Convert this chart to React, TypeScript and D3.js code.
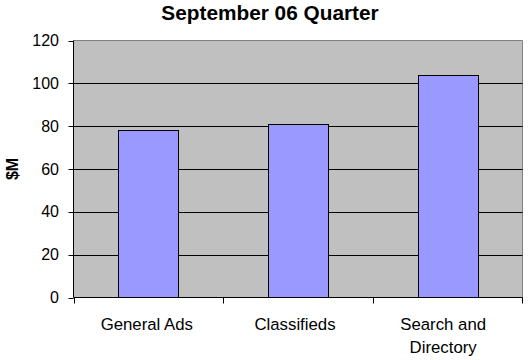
import React from "react";
import * as d3 from "d3";

const categories: string[][] = [["General Ads"], ["Classifieds"], ["Search and", "Directory"]];
const values: number[] = [78, 81, 104];
const yTicks: number[] = [0, 20, 40, 60, 80, 100, 120];
const title = "September 06 Quarter";
const yTitle = "$M";

export default function App() {
  const W = 531, H = 360;
  const left = 73.5, right = 522.5, top = 40.5, bottom = 297.5;
  const x = d3.scaleBand<number>().domain(categories.map((_, i) => i)).range([left, right]).paddingInner(0).paddingOuter(0);
  const y = d3.scaleLinear().domain([0, 120]).range([bottom, top]);
  const bw = x.bandwidth() * 0.4;
  const font = "Arial, 'Liberation Sans', sans-serif";
  return (
    <svg width={W} height={H} style={{ position: "absolute", left: 0, top: 0 }} fontFamily={font}>
      <rect x={0} y={0} width={W} height={H} fill="#fff" />
      <text x={270} y={20} textAnchor="middle" fontWeight="bold" fontSize={20.8}>{title}</text>
      <rect x={left} y={top} width={right - left} height={bottom - top} fill="#C0C0C0" />
      <line x1={left} x2={right} y1={top} y2={top} stroke="#808080" />
      <line x1={right} x2={right} y1={top} y2={bottom} stroke="#808080" />
      {yTicks.filter(t => t > 0 && t < 120).map(t => (
        <line key={t} x1={left} x2={right} y1={Math.round(y(t)) + 0.5} y2={Math.round(y(t)) + 0.5} stroke="#000" />
      ))}
      {values.map((v, i) => {
        const cx = x(i)! + x.bandwidth() / 2;
        const x0 = Math.round(cx - bw / 2) + 0.5;
        const yt = Math.round(y(v)) + 0.5;
        return <rect key={i} x={x0} y={yt} width={Math.round(bw)} height={bottom - yt} fill="#9999FF" stroke="#000" />;
      })}
      <line x1={left} x2={left} y1={top} y2={bottom} stroke="#000" />
      <line x1={left} x2={right} y1={bottom} y2={bottom} stroke="#000" />
      {yTicks.map(t => (
        <g key={t}>
          <line x1={left - 5} x2={left} y1={Math.round(y(t)) + 0.5} y2={Math.round(y(t)) + 0.5} stroke="#000" />
          <text x={59} y={y(t) + 5.5} textAnchor="end" fontSize={16}>{t}</text>
        </g>
      ))}
      {categories.map((_, i) => (
        <line key={i} x1={Math.round(x(i)!) + 0.5} x2={Math.round(x(i)!) + 0.5} y1={bottom} y2={bottom + 6} stroke="#000" />
      ))}
      <line x1={right} x2={right} y1={bottom} y2={bottom + 6} stroke="#000" />
      {categories.map((lines, i) => (
        <text key={i} textAnchor="middle" fontSize={16.8}>
          {lines.map((l, j) => (
            <tspan key={j} x={x(i)! + x.bandwidth() / 2 - 1.5 * (i + 1)} y={330 + j * 23}>{l}</tspan>
          ))}
        </text>
      ))}
      <text transform={`translate(18,${(top + bottom) / 2}) rotate(-90)`} textAnchor="middle" fontWeight="bold" fontSize={16}>{yTitle}</text>
    </svg>
  );
}
